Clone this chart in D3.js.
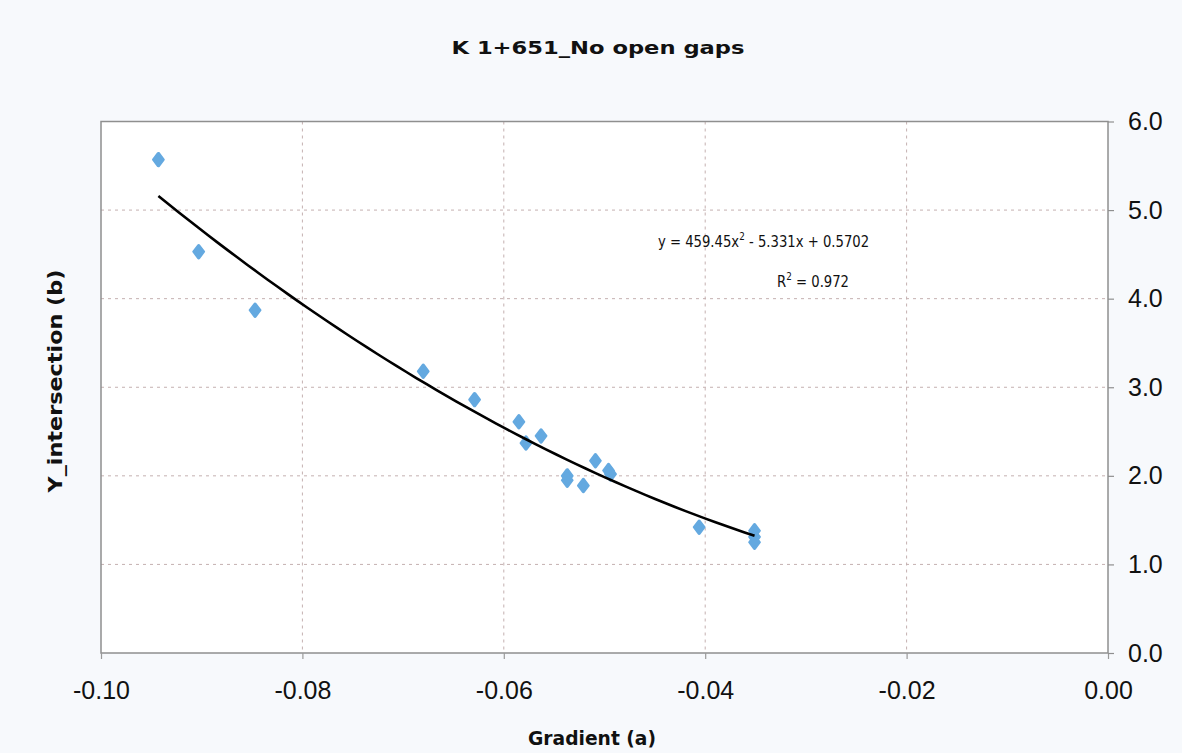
<!DOCTYPE html>
<html>
<head>
<meta charset="utf-8">
<script src="https://cdn.jsdelivr.net/npm/d3@7"></script>
<style>
  html, body { margin: 0; padding: 0; background: #f7f9fc; }
  svg { display: block; }
</style>
</head>
<body>
<svg id="chart" width="1182" height="753"></svg>
<script>
// ---- data ----
const gradient = [-0.0943, -0.0903, -0.0847, -0.0680, -0.0629, -0.0585, -0.0578, -0.0563,
                  -0.0537, -0.0537, -0.0521, -0.0509, -0.0496, -0.0494, -0.0406, -0.0351, -0.0351, -0.0351];
const yIntersection = [5.57, 4.53, 3.87, 3.18, 2.86, 2.61, 2.37, 2.45,
                       2.00, 1.95, 1.89, 2.17, 2.06, 2.02, 1.42, 1.38, 1.31, 1.25];
const xTicks = [-0.10, -0.08, -0.06, -0.04, -0.02, 0.00];
const yTicks = [0, 1, 2, 3, 4, 5, 6];
const trendCoef = [459.45, -5.331, 0.5702]; // y = a x^2 + b x + c
const trendRange = [-0.0943, -0.0351];
const titleText = "K 1+651_No open gaps";
const xLabel = "Gradient (a)";
const yLabel = "Y_intersection (b)";

// ---- layout ----
const svg = d3.select("#chart");
const W = 1182, H = 753;
const mLeft = 101, mRight = 1108, mTop = 121.5, mBottom = 653;

svg.append("rect").attr("width", W).attr("height", H).attr("fill", "#f7f9fc");

const x = d3.scaleLinear().domain([-0.10, 0]).range([mLeft, mRight]);
const y = d3.scaleLinear().domain([0, 6]).range([mBottom, mTop]);

// plot background
svg.append("rect").attr("x", mLeft).attr("y", mTop)
  .attr("width", mRight - mLeft).attr("height", mBottom - mTop)
  .attr("fill", "#ffffff");

// grid lines
const grid = svg.append("g").attr("stroke", "#c4b0b0").attr("stroke-width", 1)
  .attr("stroke-dasharray", "3,4");
grid.selectAll("line.v").data(xTicks.slice(1, -1)).join("line").attr("class", "v")
  .attr("x1", d => x(d)).attr("x2", d => x(d))
  .attr("y1", mTop).attr("y2", mBottom);
grid.selectAll("line.h").data(yTicks.slice(1, -1)).join("line").attr("class", "h")
  .attr("x1", mLeft).attr("x2", mRight)
  .attr("y1", d => y(d)).attr("y2", d => y(d));

// frame
svg.append("rect").attr("x", mLeft).attr("y", mTop)
  .attr("width", mRight - mLeft).attr("height", mBottom - mTop)
  .attr("fill", "none").attr("stroke", "#8f8f8f").attr("stroke-width", 1.5);

// x axis
const xAxis = d3.axisBottom(x).tickValues(xTicks)
  .tickFormat(d => d3.format(".2f")(d).replace("−", "-"))
  .tickSize(6).tickPadding(22);
const gx = svg.append("g").attr("transform", `translate(0,${mBottom})`).call(xAxis);
gx.select(".domain").remove();
gx.selectAll("line").attr("stroke", "#9a9a9a").attr("stroke-width", 1.2);
gx.selectAll("text").attr("font-family", "Liberation Sans, Arial, sans-serif")
  .attr("font-size", 25).attr("fill", "#111");

// y axis on right
const yAxis = d3.axisRight(y).tickValues(yTicks).tickFormat(d3.format(".1f"))
  .tickSize(6).tickPadding(14);
const gy = svg.append("g").attr("transform", `translate(${mRight},0)`).call(yAxis);
gy.select(".domain").remove();
gy.selectAll("line").attr("stroke", "#8f8f8f").attr("stroke-width", 1.2);
gy.selectAll("text").attr("font-family", "Liberation Sans, Arial, sans-serif")
  .attr("font-size", 25).attr("fill", "#111");

// points
const pts = gradient.map((g, i) => ({ g, b: yIntersection[i] }));
svg.append("g").selectAll("path").data(pts).join("path")
  .attr("d", d3.symbol().type(d3.symbolDiamond).size(48))
  .attr("transform", d => `translate(${x(d.g)},${y(d.b)}) scale(1.3,1)`)
  .attr("fill", "#64a9e0").attr("stroke", "#64a9e0")
  .attr("stroke-width", 2.4).attr("stroke-linejoin", "round");

// trendline from displayed coefficients
const nSteps = 60;
const trendX = d3.range(nSteps + 1).map(i => trendRange[0] + (trendRange[1] - trendRange[0]) * i / nSteps);
const trend = trendX.map(v => [v, trendCoef[0] * v * v + trendCoef[1] * v + trendCoef[2]]);
svg.append("path").datum(trend)
  .attr("d", d3.line().x(d => x(d[0])).y(d => y(d[1])))
  .attr("fill", "none").attr("stroke", "#000").attr("stroke-width", 2.6);

// equation
const eq = svg.append("text").attr("transform", "translate(763.5,247) scale(0.8,1)")
  .attr("text-anchor", "middle").attr("font-family", "DejaVu Sans, Verdana, sans-serif")
  .attr("font-size", 16.5).attr("fill", "#111");
eq.append("tspan").text("y = 459.45x");
eq.append("tspan").attr("font-size", 11).attr("dy", -7).text("2");
eq.append("tspan").attr("dy", 7).text(" - 5.331x + 0.5702");

const r2 = svg.append("text").attr("transform", "translate(813,287) scale(0.8,1)")
  .attr("text-anchor", "middle").attr("font-family", "DejaVu Sans, Verdana, sans-serif")
  .attr("font-size", 16.5).attr("fill", "#111");
r2.append("tspan").text("R");
r2.append("tspan").attr("font-size", 11).attr("dy", -7).text("2");
r2.append("tspan").attr("dy", 7).text(" = 0.972");

// title
svg.append("text").attr("x", 598).attr("y", 53.5).attr("text-anchor", "middle")
  .attr("font-family", "DejaVu Sans, Verdana, sans-serif").attr("font-weight", "bold")
  .attr("font-size", 17.5).attr("fill", "#111")
  .attr("textLength", 293).attr("lengthAdjust", "spacingAndGlyphs")
  .text(titleText);

// x label
svg.append("text").attr("x", 592).attr("y", 745).attr("text-anchor", "middle")
  .attr("font-family", "DejaVu Sans, Verdana, sans-serif").attr("font-weight", "bold")
  .attr("font-size", 19).attr("fill", "#111")
  .attr("textLength", 128).attr("lengthAdjust", "spacingAndGlyphs")
  .text(xLabel);

// y label
svg.append("text").attr("transform", "translate(62,381) rotate(-90)")
  .attr("text-anchor", "middle")
  .attr("font-family", "DejaVu Sans, Verdana, sans-serif").attr("font-weight", "bold")
  .attr("font-size", 19).attr("fill", "#111")
  .attr("textLength", 223).attr("lengthAdjust", "spacingAndGlyphs")
  .text(yLabel);
</script>
</body>
</html>
